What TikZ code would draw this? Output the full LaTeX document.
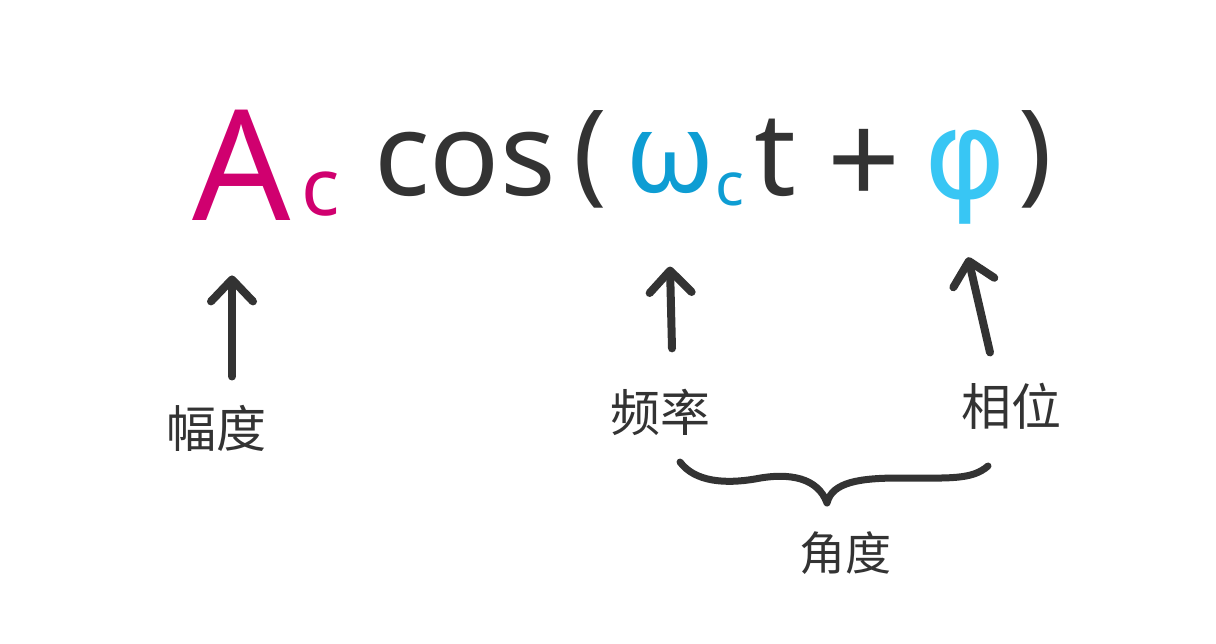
\documentclass[tikz,border=0pt]{standalone}
\usepackage{fontspec}
\setmainfont{Noto Sans}
\newfontfamily\cjk{Noto Sans CJK SC}
\newfontfamily\greekface{DejaVu Sans}
\usepackage{xcolor}
\usepackage{tikz}
\usetikzlibrary{arrows.meta,calc,positioning}
\definecolor{inkgray}{HTML}{333333}
\definecolor{amppink}{HTML}{D0006F}
\definecolor{omegablue}{HTML}{0E9DD3}
\definecolor{phiblue}{HTML}{38C6F4}

\begin{document}
\begin{tikzpicture}[x=0.5pt,y=-0.5pt,
  term/.style={inner sep=0pt,anchor=base,text=inkgray},
  word/.style={inner sep=0pt,text=inkgray,font=\cjk\fontsize{25}{25}\selectfont},
  pointer/.style={draw=inkgray,line width=4pt,line cap=round,
    -{Straight Barb[length=11pt,width=21pt,line width=4pt,round]}}]
\useasboundingbox (0,0) rectangle (1216,643);
% formula
\node[term,text=amppink,font=\fontsize{77}{77}\selectfont] (A) at (242,220) {A};
\node[term,text=amppink,font=\fontsize{40}{40}\selectfont] (Ac) at (321,215) {c};
\node[term,font=\fontsize{58}{58}\selectfont] (cos) at (465,195) {cos};
\node[term,font=\fontsize{56}{56}\selectfont] (lpar) at (590,190) {(};
\node[term,text=omegablue,font=\fontsize{56}{56}\selectfont] (w) at (670,192) {ω};
\node[term,text=omegablue,font=\fontsize{30}{30}\selectfont] (wc) at (730,205) {c};
\node[term,font=\fontsize{58}{58}\selectfont] (t) at (775,195) {t};
\node[term,font=\fontsize{64}{64}\selectfont] (plus) at (864,205) {+};
\node[term,text=phiblue,font=\greekface\fontsize{62}{62}\selectfont] (phi) at (965,198) {φ};
\node[term,font=\fontsize{56}{56}\selectfont] (rpar) at (1035,190) {)};
% labels
\node[word] (amp) at (216,428) {幅度};
\node[word] (freq) at (660,412) {频率};
\node[word] (phase) at (1011,406) {相位};
\node[word,font=\cjk\fontsize{23}{23}\selectfont] (angle) at (845,553) {角度};
% arrows
\draw[pointer] ($(amp.north)+(16,-28)$) -- ($(A.south)+(-10,55)$);
\draw[pointer] ($(freq.north)+(12,-40)$) -- ($(w.south)+(0,73)$);
\draw[pointer] ($(phase.north)+(-21,-30)$) -- ($(phi.south)+(3,33)$);
% brace
\coordinate (braceL) at (680,462);
\coordinate (braceR) at (988,466);
\coordinate (braceTip) at (827,503);
\draw[inkgray,line width=3.5pt,line cap=round,line join=round]
  (braceL) .. controls (695,482) and (725,484) .. (755,479)
  .. controls (790,472) and (818,478) .. (braceTip)
  .. controls (832,482) and (860,478) .. (900,478)
  .. controls (950,478) and (972,480) .. (braceR);
\end{tikzpicture}
\end{document}
